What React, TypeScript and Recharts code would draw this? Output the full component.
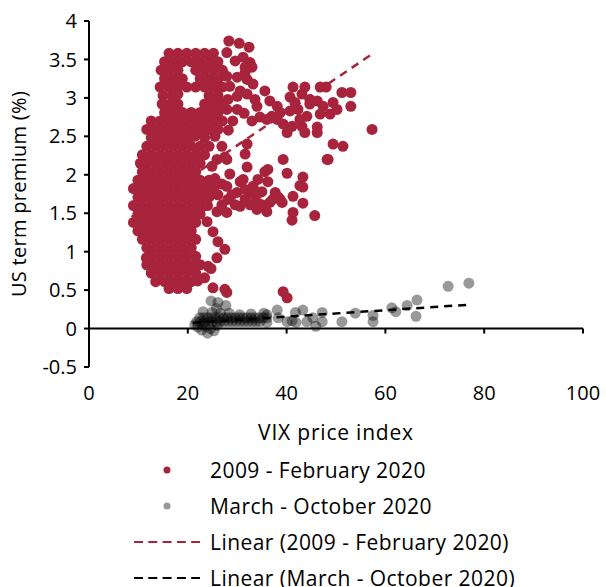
import React from "react";
import { ScatterChart, Scatter, XAxis, YAxis, ReferenceLine } from "recharts";

const RED = "#a7243c";
const FONT = "'Open Sans', Lato, sans-serif";

const xTicks = [0, 20, 40, 60, 80, 100];
const yTicks = [-0.5, 0, 0.5, 1, 1.5, 2, 2.5, 3, 3.5, 4];

type P = [number, number];

// 2009 - Feb 2020: upper block
const redTopBlock: P[] = [
  [16.2, 3.58], [18.0, 3.58], [19.8, 3.58], [21.6, 3.58], [23.4, 3.58], [25.2, 3.58],
  [15.3, 3.47], [17.1, 3.47], [18.9, 3.47], [20.7, 3.47], [22.5, 3.47], [24.3, 3.47], [26.1, 3.47],
  [14.6, 3.36], [16.2, 3.36], [18.0, 3.36], [21.6, 3.36], [23.4, 3.36], [25.2, 3.36], [27.0, 3.36],
  [15.3, 3.25], [17.1, 3.25], [18.9, 3.25], [22.5, 3.25], [24.3, 3.25], [26.1, 3.25],
  [14.4, 3.14], [16.2, 3.14], [18.0, 3.14], [19.8, 3.14], [21.6, 3.14], [23.4, 3.14], [25.2, 3.14], [27.0, 3.14],
  [15.0, 3.03], [16.8, 3.03], [18.0, 3.05], [24.3, 3.03], [26.1, 3.03],
  [14.8, 2.92], [16.4, 2.92], [18.0, 2.92], [23.4, 2.92], [25.2, 2.92], [27.0, 2.92],
  [15.3, 2.81], [17.1, 2.81], [18.9, 2.81], [20.7, 2.81], [22.5, 2.81], [24.3, 2.81], [26.1, 2.81],
];

// upper block, right edge and spikes
const redTopRight: P[] = [
  [28.3, 3.74], [30.4, 3.71], [32.4, 3.66], [27.9, 3.59], [31.2, 3.53], [29.6, 3.48],
  [32.6, 3.46], [31.6, 3.40], [33.0, 3.40], [31.6, 3.33], [27.9, 3.28], [30.0, 3.27],
  [32.0, 3.24], [33.2, 3.18], [28.5, 3.15], [30.6, 3.09], [32.0, 3.05], [28.1, 2.98],
  [30.0, 3.02], [33.6, 2.98], [27.9, 2.85], [30.0, 2.85], [29.1, 2.70], [27.1, 2.89],
  [31.4, 2.80], [28.2, 2.58],
];

// right-hand band
const redBand: P[] = [
  [35.6, 3.09], [34.0, 2.89], [36.6, 2.96], [38.1, 2.89], [40.7, 3.01], [43.1, 3.05],
  [41.3, 3.14], [43.7, 3.14], [46.8, 3.14], [48.0, 3.14], [51.2, 3.07], [53.0, 3.07],
  [53.0, 2.89], [57.3, 2.59], [44.7, 2.98], [46.2, 2.96], [47.4, 2.89], [49.4, 2.94],
  [50.2, 2.85], [48.8, 2.79], [46.8, 2.79], [44.7, 2.92], [44.1, 2.76], [42.3, 2.85],
  [41.7, 2.94], [40.7, 2.83], [38.7, 2.81], [37.0, 2.76], [34.6, 2.75], [33.0, 2.70],
  [36.0, 2.72], [38.1, 2.72], [39.3, 2.66], [41.1, 2.63], [43.1, 2.63], [43.7, 2.55],
  [46.2, 2.62], [46.2, 2.55], [40.1, 2.55], [42.7, 2.72], [32.0, 2.40], [31.6, 2.27],
  [39.3, 2.20], [48.4, 2.20], [49.4, 2.40], [51.4, 2.37], [25.5, 2.50], [26.9, 2.37],
];

// main cloud
const redCore: P[] = [
  [12.6, 2.70], [14.4, 2.70], [16.2, 2.70], [18.0, 2.70], [19.8, 2.70], [21.6, 2.70], [23.4, 2.70], [25.2, 2.70], [27.0, 2.70],
  [11.7, 2.59], [13.5, 2.59], [15.3, 2.59], [17.1, 2.59], [18.9, 2.59], [20.7, 2.59], [22.5, 2.59], [24.3, 2.59], [26.1, 2.59],
  [12.6, 2.48], [14.4, 2.48], [16.2, 2.48], [18.0, 2.48], [19.8, 2.48], [21.4, 2.50], [23.4, 2.48],
  [11.7, 2.37], [13.5, 2.37], [15.3, 2.37], [17.1, 2.37], [18.9, 2.37], [20.7, 2.37], [22.5, 2.37], [24.3, 2.37],
  [10.8, 2.26], [12.6, 2.26], [14.4, 2.26], [16.2, 2.26], [18.0, 2.26], [19.8, 2.26], [21.6, 2.26], [23.4, 2.26],
  [10.4, 2.15], [11.7, 2.15], [13.5, 2.15], [15.3, 2.15], [17.1, 2.15], [18.9, 2.15], [20.7, 2.15], [22.5, 2.15],
  [10.8, 2.04], [12.6, 2.04], [14.4, 2.04], [16.2, 2.04], [18.0, 2.04], [19.8, 2.04], [21.6, 2.04],
  [9.9, 1.93], [11.7, 1.93], [13.5, 1.93], [15.3, 1.93], [17.1, 1.93], [18.9, 1.93], [20.7, 1.93], [22.5, 1.93], [24.3, 1.93],
  [9.0, 1.82], [10.8, 1.82], [12.6, 1.82], [14.4, 1.82], [16.2, 1.82], [18.0, 1.82], [19.8, 1.82], [21.6, 1.82], [23.4, 1.82], [25.2, 1.82],
  [9.9, 1.71], [11.7, 1.71], [13.5, 1.71], [15.3, 1.71], [17.1, 1.71], [18.9, 1.71], [20.7, 1.71], [22.5, 1.71], [24.3, 1.71],
  [9.0, 1.60], [10.8, 1.60], [12.6, 1.60], [14.4, 1.60], [16.2, 1.60], [18.0, 1.60], [19.8, 1.60], [21.6, 1.60], [23.4, 1.60],
  [9.9, 1.49], [11.7, 1.49], [13.5, 1.49], [15.3, 1.49], [17.1, 1.49], [18.9, 1.49], [20.7, 1.49], [22.5, 1.49],
  [9.0, 1.38], [10.8, 1.38], [12.6, 1.38], [14.4, 1.38], [16.2, 1.38], [18.0, 1.38], [19.8, 1.38], [21.6, 1.38],
  [9.9, 1.27], [11.7, 1.27], [13.5, 1.27], [15.3, 1.27], [17.1, 1.27], [18.9, 1.27], [20.7, 1.27],
  [10.8, 1.16], [12.6, 1.16], [14.4, 1.16], [16.2, 1.16], [18.0, 1.16], [19.8, 1.16], [21.6, 1.16],
  [11.7, 1.05], [13.5, 1.05], [15.3, 1.05], [17.1, 1.05], [18.9, 1.05], [20.7, 1.05],
  [11.6, 0.92], [12.6, 0.94], [14.4, 0.94], [16.2, 0.94], [18.0, 0.94], [19.8, 0.94], [21.6, 0.94],
  [11.7, 0.83], [13.5, 0.83], [15.3, 0.83], [17.1, 0.83], [18.9, 0.83], [20.7, 0.83], [22.5, 0.83],
  [12.6, 0.72], [14.4, 0.72], [16.2, 0.72], [18.0, 0.72], [19.8, 0.72], [21.6, 0.72],
  [13.5, 0.61], [15.3, 0.61], [17.1, 0.61], [18.9, 0.61], [20.7, 0.61], [22.0, 0.62],
  [16.2, 0.52], [18.0, 0.52], [19.8, 0.52],
];

// scattered points right of the main cloud
const redMidRight: P[] = [
  [32.0, 2.10], [35.6, 2.04], [36.2, 1.91], [33.2, 1.85], [30.0, 1.77], [35.0, 1.78],
  [37.7, 1.77], [38.7, 1.68], [36.6, 1.64], [34.0, 1.64], [30.6, 1.59], [36.0, 1.52],
  [27.9, 1.51], [30.6, 1.91], [27.9, 1.85], [26.1, 1.74], [28.1, 1.68], [25.9, 1.52],
  [23.9, 1.39], [25.1, 1.26], [26.1, 1.13], [27.5, 1.03], [25.9, 0.92], [24.1, 0.81],
  [24.7, 0.78], [28.5, 2.01], [27.5, 2.23], [25.9, 2.20], [24.9, 2.11], [27.9, 2.20],
  [40.1, 2.02], [43.3, 1.97], [42.7, 1.86], [43.3, 1.84], [41.3, 1.72], [43.3, 1.63],
  [45.7, 1.47], [41.3, 1.51], [41.1, 1.41], [48.2, 2.20], [32.6, 1.77], [34.6, 1.77],
  [37.2, 1.68], [39.1, 1.64], [38.3, 1.71], [34.0, 1.55], [31.2, 1.94], [36.2, 2.07],
  [31.6, 1.68], [29.6, 1.61], [32.6, 1.61], [26.9, 1.61], [26.9, 1.88], [28.9, 1.74],
  [33.6, 1.72], [31.6, 1.81], [35.0, 1.61], [34.2, 1.94], [24.0, 1.60], [25.5, 1.95],
];

const redLow: P[] = [
  [25.1, 0.53], [27.5, 0.51], [27.9, 0.47], [39.3, 0.48], [40.1, 0.40], [23.4, 0.66],
];

// March - October 2020
const grayPoints: P[] = [
  [22.4, 0.14], [23.2, 0.14], [24.0, 0.14], [24.8, 0.14], [25.6, 0.14], [26.4, 0.14],
  [27.2, 0.14], [28.0, 0.14], [28.8, 0.14], [29.6, 0.14], [30.4, 0.14], [31.2, 0.14],
  [32.0, 0.14], [32.8, 0.14], [33.6, 0.14], [34.4, 0.14], [35.2, 0.14], [36.0, 0.14],
  [21.8, 0.09], [22.6, 0.09], [23.4, 0.09], [24.2, 0.09], [25.0, 0.09], [25.8, 0.09],
  [26.6, 0.09], [27.4, 0.09], [28.2, 0.09], [29.0, 0.09], [29.8, 0.09], [30.6, 0.09],
  [31.4, 0.09], [32.2, 0.09], [33.0, 0.09], [33.8, 0.09], [34.6, 0.09],
  [21.4, 0.05], [22.0, 0.02], [22.8, -0.02], [23.5, 0.03], [24.0, -0.06], [24.6, 0.0],
  [25.3, -0.03], [23.0, 0.06], [26.0, 0.04],
  [24.7, 0.36], [26.1, 0.34], [27.7, 0.30], [23.1, 0.22], [24.9, 0.21], [25.8, 0.26],
  [26.6, 0.2], [28.4, 0.2], [30.5, 0.18], [32.8, 0.19], [35.4, 0.2],
  [36.0, 0.18], [36.0, 0.08], [38.1, 0.24], [38.3, 0.14], [40.1, 0.09], [41.1, 0.1],
  [41.8, 0.21], [41.9, 0.08], [43.3, 0.24], [44.1, 0.09], [45.3, 0.14], [45.9, 0.03],
  [47.2, 0.21], [47.2, 0.09], [51.2, 0.09], [53.9, 0.2], [57.5, 0.17], [57.5, 0.09],
  [61.3, 0.27], [62.1, 0.22], [64.4, 0.3], [66.2, 0.16], [66.4, 0.37], [72.7, 0.55],
  [76.9, 0.59],
];

const redTrend: P[] = [[8.6, 1.45], [57.3, 3.57]];
const grayTrend: P[] = [[21.0, 0.075], [76.9, 0.31]];

const legendItems = [
  { label: "2009 - February 2020", kind: "dot", color: RED },
  { label: "March - October 2020", kind: "dot", color: "#999999" },
  { label: "Linear (2009 - February 2020)", kind: "line", color: RED },
  { label: "Linear (March - October 2020)", kind: "line", color: "#000000" },
];

const toPts = (arr: P[]) => arr.map(([x, y]) => ({ x, y }));

const redData = toPts([...redCore, ...redTopBlock, ...redTopRight, ...redBand, ...redMidRight, ...redLow]);
const grayData = toPts(grayPoints);

const RedDot = (p: any) => <circle cx={p.cx} cy={p.cy} r={5.5} fill={RED} />;
const GrayDot = (p: any) => <circle cx={p.cx} cy={p.cy} r={5.5} fill="#000" fillOpacity={0.4} />;
const NoDot = () => <g />;

const textStyle = { fontSize: 20, fill: "#000", fontFamily: FONT };

export default function App() {
  return (
    <div style={{ position: "absolute", left: 0, top: 0, width: 606, height: 587, background: "#fff", fontFamily: FONT }}>
      <ScatterChart width={606} height={447} margin={{ top: 21, right: 23, bottom: 0, left: 0 }}>
        <XAxis
          type="number"
          dataKey="x"
          domain={[0, 100]}
          ticks={xTicks}
          axisLine={false}
          tickLine={false}
          tickSize={6}
          tickMargin={13}
          height={80}
          tick={textStyle}
          label={{ value: "VIX price index", position: "insideBottom", offset: 7, style: { ...textStyle, fontSize: 21, letterSpacing: 0.8 } }}
        />
        <YAxis
          type="number"
          dataKey="y"
          domain={[-0.5, 4]}
          ticks={yTicks}
          interval={0}
          width={89}
          stroke="#000"
          tickSize={5}
          tickMargin={7}
          axisLine={{ stroke: "#000", strokeWidth: 2 }}
          tickLine={{ stroke: "#000", strokeWidth: 2 }}
          tick={textStyle}
          label={{ value: "US term premium (%)", angle: -90, position: "insideLeft", offset: 19, style: { ...textStyle, letterSpacing: 0.3, textAnchor: "middle" } }}
        />
        <ReferenceLine y={0} stroke="#000" strokeWidth={2} />
        {xTicks.slice(1).map((t) => (
          <ReferenceLine key={t} segment={[{ x: t, y: 0 }, { x: t, y: -0.065 }]} stroke="#000" strokeWidth={2} />
        ))}
        <Scatter data={redData} shape={RedDot} isAnimationActive={false} />
        <Scatter data={grayData} shape={GrayDot} isAnimationActive={false} />
        <Scatter
          data={toPts(redTrend)}
          shape={NoDot}
          line={{ stroke: RED, strokeWidth: 2.5, strokeDasharray: "8 6" }}
          isAnimationActive={false}
        />
        <Scatter
          data={toPts(grayTrend)}
          shape={NoDot}
          line={{ stroke: "#000", strokeWidth: 2.5, strokeDasharray: "8 6" }}
          isAnimationActive={false}
        />
      </ScatterChart>
      <div style={{ position: "absolute", left: 0, top: 452, fontSize: 21, letterSpacing: 0.45, color: "#000" }}>
        {legendItems.map((it) => (
          <div key={it.label} style={{ display: "flex", alignItems: "center", height: 36 }}>
            <svg width={210} height={36}>
              {it.kind === "dot" ? (
                <circle cx={167} cy={18} r={3.5} fill={it.color} />
              ) : (
                <line x1={134} x2={200} y1={18} y2={18} stroke={it.color} strokeWidth={2} strokeDasharray="9 5.3" />
              )}
            </svg>
            <span>{it.label}</span>
          </div>
        ))}
      </div>
    </div>
  );
}
